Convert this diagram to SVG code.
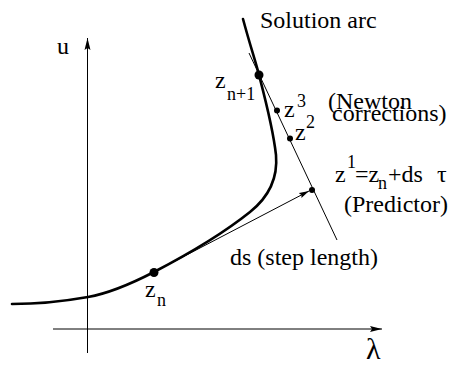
<svg xmlns="http://www.w3.org/2000/svg" width="450" height="365" viewBox="0 0 450 365">
<defs>
<style>
.t{font-family:"Liberation Serif","Times New Roman",serif;font-size:24px;fill:#000}
.s{font-size:18px}
.ax{stroke:#000;stroke-width:1;fill:none}
.thin{stroke:#000;stroke-width:1;fill:none}
.arc{stroke:#000;stroke-width:2.6;fill:none;stroke-linecap:round}
.dot{fill:#000}
</style>
<marker id="ah" markerUnits="userSpaceOnUse" markerWidth="14" markerHeight="8" refX="12" refY="4" orient="auto">
<path d="M0,1 L12,4 L0,7 L2,4 Z" fill="#000"/>
</marker>
<marker id="ah2" markerUnits="userSpaceOnUse" markerWidth="12" markerHeight="8" refX="10" refY="4" orient="auto">
<path d="M0,1.2 L10,4 L0,6.8 L1.5,4 Z" fill="#000"/>
</marker>
</defs>
<g id="axes">
<line class="ax" x1="87.5" y1="353" x2="87.5" y2="38" marker-end="url(#ah)"/>
<line class="ax" x1="53" y1="329" x2="382" y2="329" marker-end="url(#ah)"/>
<text class="t" x="57" y="54">u</text>
<text class="t" x="366" y="359" style="font-size:30px">λ</text>
</g>
<g id="solution-arc">
<path class="arc" d="M243,19 C250,45 256,63 259,75 C266,102 273,128 276,155 C278,178 270,196 250,212 C230,228 200,248 154,272 C125,287 105,294 88,297 C60,302 35,304 12,304"/>
<text class="t" x="260" y="28">Solution arc</text>
</g>
<g id="connectors">
<line class="thin" x1="249" y1="53" x2="337" y2="240"/>
<line class="thin" x1="154" y1="272" x2="309" y2="191" marker-end="url(#ah2)"/>
</g>
<g id="zn">
<circle class="dot" cx="154" cy="272.5" r="4.5"/>
<text class="t" x="145" y="297">z</text>
<text class="t s" x="157" y="306">n</text>
</g>
<g id="zn1">
<circle class="dot" cx="259" cy="75" r="4.5"/>
<text class="t" x="215" y="88">z</text>
<text class="t s" x="227" y="99.5">n+1</text>
</g>
<g id="z3">
<circle class="dot" cx="277" cy="110.5" r="3"/>
<text class="t" x="284" y="117">z</text>
<text class="t s" x="297" y="107">3</text>
</g>
<g id="z2">
<circle class="dot" cx="290" cy="138.5" r="3"/>
<text class="t" x="295" y="140">z</text>
<text class="t s" x="306" y="128">2</text>
</g>
<g id="newton">
<text class="t" x="328" y="109">(Newton</text>
<text class="t" x="332" y="121">corrections)</text>
</g>
<g id="z1">
<circle class="dot" cx="312" cy="190" r="3"/>
<text class="t" x="335" y="182">z</text>
<text class="t s" x="347" y="168">1</text>
<text class="t" x="355" y="182">=z</text>
<text class="t s" x="378" y="189">n</text>
<text class="t" x="388" y="182">+ds</text>
<text class="t" x="437" y="182">τ</text>
<text class="t" x="344" y="212">(Predictor)</text>
</g>
<g id="steplength">
<text class="t" x="230" y="265">ds (step length)</text>
</g>
</svg>
